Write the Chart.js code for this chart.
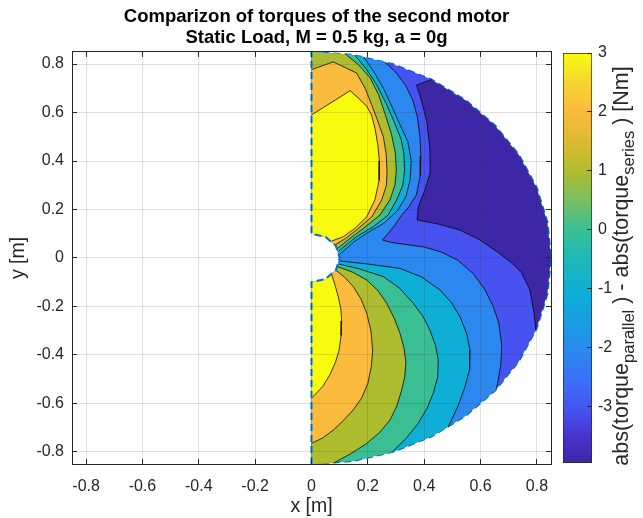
<!DOCTYPE html>
<html>
<head>
<meta charset="utf-8">
<script src="https://cdn.jsdelivr.net/npm/chart.js@4.4.1/dist/chart.umd.min.js"></script>
<style>
  html, body { margin: 0; padding: 0; background: #fff; }
  #wrap { position: relative; width: 643px; height: 518px; }
  #wrap canvas { position: absolute; left: 0; top: 0; }
</style>
</head>
<body>
<div id="wrap">
  <canvas id="plot" width="643" height="518"></canvas>
  <canvas id="cbar" width="643" height="518"></canvas>
</div>
<script>
const FONT = "'Liberation Sans', Arial, Helvetica, sans-serif";

const X_TICKS = [-0.8, -0.6, -0.4, -0.2, 0, 0.2, 0.4, 0.6, 0.8];
const Y_TICKS = [-0.8, -0.6, -0.4, -0.2, 0, 0.2, 0.4, 0.6, 0.8];
const CB_TICKS = [-3, -2, -1, 0, 1, 2, 3];
const CB_RANGE = [-3.95, 3];

// colorbar colormap (value -> colour)
const CMAP_VALUES = [-3.95, -3.53, -3.05, -2.56, -2.07, -1.59, -1.03, -0.48, 0.01, 0.5, 0.98, 1.47, 2.03, 2.51, 3];
const CMAP_COLORS = ['#3e26a8', '#4633c9', '#4653f0', '#3b6ff5', '#2c87ee', '#1a9de2', '#0eaed6', '#20b8b8',
                     '#3abf94', '#78bf62', '#adbd2f', '#dcba30', '#fbbb3d', '#f6d631', '#f9fb0e'];

// fill colours of the bands, lowest to highest
const BAND_COLORS = ['#3e27a6', '#4653f0', '#2c87ee', '#0eaed6', '#3abf94', '#adbd2f', '#fbbb3d', '#f9fb0e'];

// domain boundary: outer half circle (top to bottom) and the notch round the origin
const OUTER_ARC = [[0, 0.85], [0.1476, 0.8371], [0.2907, 0.7987], [0.425, 0.7361], [0.5464, 0.6511],
  [0.6511, 0.5464], [0.7361, 0.425], [0.7987, 0.2907], [0.8371, 0.1476], [0.85, 0],
  [0.8371, -0.1476], [0.7987, -0.2907], [0.7361, -0.425], [0.6511, -0.5464], [0.5464, -0.6511],
  [0.425, -0.7361], [0.2907, -0.7987], [0.1476, -0.8371], [0, -0.85]];
const NOTCH_ARC = [[0, -0.1], [0.05, -0.0866], [0.0866, -0.05], [0.1, 0], [0.0866, 0.05], [0.05, 0.0866], [0, 0.1]];

// contour lines (x, y in m)
const LINE_A_UP = [[0, 0.59], [0.137, 0.69], [0.166, 0.66], [0.196, 0.626], [0.213, 0.59], [0.225, 0.536],
  [0.235, 0.47], [0.241, 0.40], [0.24, 0.32], [0.225, 0.24], [0.196, 0.17], [0.154, 0.122], [0.113, 0.088], [0.072, 0.07]];
const LINE_B_UP = [[0, 0.777], [0.077, 0.809], [0.16, 0.763], [0.19, 0.701], [0.213, 0.633], [0.232, 0.575],
  [0.255, 0.50], [0.265, 0.43], [0.268, 0.36], [0.266, 0.30], [0.249, 0.239], [0.214, 0.17], [0.16, 0.116], [0.12, 0.08], [0.084, 0.054]];
const LINE_C_UP = [[0.12, 0.8415], [0.166, 0.798], [0.208, 0.743], [0.238, 0.674], [0.262, 0.591], [0.284, 0.51],
  [0.298, 0.43], [0.301, 0.36], [0.296, 0.30], [0.278, 0.239], [0.243, 0.177], [0.184, 0.122], [0.137, 0.081], [0.092, 0.039]];
const LINE_D_UP = [[0.154, 0.836], [0.196, 0.777], [0.231, 0.715], [0.264, 0.64], [0.294, 0.56], [0.318, 0.49],
  [0.328, 0.43], [0.33, 0.36], [0.324, 0.30], [0.302, 0.239], [0.272, 0.177], [0.219, 0.129], [0.16, 0.088], [0.13, 0.06], [0.096, 0.028]];
const LINE_E_UP = [[0.185, 0.8296], [0.22, 0.77], [0.255, 0.70], [0.287, 0.62], [0.316, 0.545], [0.342, 0.48],
  [0.354, 0.40], [0.35, 0.322], [0.335, 0.253], [0.305, 0.195], [0.255, 0.142], [0.196, 0.102], [0.15, 0.066], [0.099, 0.014]];
const LINE_F = [[0.26, 0.809], [0.30, 0.765], [0.335, 0.71], [0.36, 0.65], [0.376, 0.58], [0.385, 0.50],
  [0.388, 0.42], [0.386, 0.34], [0.372, 0.26], [0.345, 0.21], [0.32, 0.177], [0.296, 0.136], [0.273, 0.102],
  [0.251, 0.074], [0.284, 0.064], [0.332, 0.056], [0.40, 0.045], [0.46, 0.025], [0.52, -0.01], [0.574, -0.065],
  [0.615, -0.13], [0.645, -0.2], [0.665, -0.27], [0.675, -0.36], [0.672, -0.44], [0.657, -0.539]];
const LINE_G = [[0.4265, 0.736], [0.373, 0.713], [0.391, 0.647], [0.409, 0.564], [0.42, 0.454], [0.421, 0.35],
  [0.403, 0.281], [0.379, 0.212], [0.375, 0.157], [0.45, 0.14], [0.527, 0.115], [0.598, 0.074], [0.66, 0.025],
  [0.71, -0.02], [0.745, -0.06], [0.775, -0.132], [0.79, -0.228], [0.796, -0.298]];
const LINE_A_LO = [[0.072, -0.07], [0.083, -0.11], [0.095, -0.16], [0.104, -0.21], [0.107, -0.26], [0.105, -0.32],
  [0.098, -0.38], [0.085, -0.43], [0.066, -0.48], [0.04, -0.53], [0, -0.579]];
const LINE_B_LO = [[0.086, -0.05], [0.12, -0.082], [0.148, -0.118], [0.176, -0.17], [0.196, -0.228], [0.211, -0.3],
  [0.217, -0.38], [0.212, -0.45], [0.2, -0.517], [0.178, -0.578], [0.148, -0.627], [0.112, -0.672], [0.0775, -0.71],
  [0.04, -0.742], [0, -0.765]];
const LINE_C_LO = [[0.093, -0.036], [0.145, -0.058], [0.196, -0.091], [0.236, -0.135], [0.267, -0.187], [0.294, -0.25],
  [0.314, -0.311], [0.328, -0.37], [0.335, -0.43], [0.331, -0.49], [0.32, -0.545], [0.303, -0.61], [0.279, -0.668],
  [0.24, -0.722], [0.196, -0.765], [0.14, -0.807], [0.078, -0.8464]];
const LINE_D_LO = [[0.097, -0.025], [0.17, -0.045], [0.255, -0.077], [0.313, -0.125], [0.361, -0.187], [0.395, -0.24],
  [0.42, -0.297], [0.44, -0.36], [0.45, -0.421], [0.448, -0.49], [0.432, -0.558], [0.41, -0.62], [0.379, -0.682],
  [0.335, -0.745], [0.287, -0.8001]];
const LINE_E_LO = [[0.099, -0.012], [0.2, -0.025], [0.314, -0.043], [0.39, -0.078], [0.456, -0.132], [0.497, -0.185],
  [0.527, -0.242], [0.55, -0.31], [0.5625, -0.38], [0.561, -0.46], [0.545, -0.531], [0.52, -0.61], [0.4855, -0.6977]];

const CB_LABEL = [['abs(torque', 0], ['parallel', 1], [' ) - abs(torque', 0], ['series', 1], [' ) [Nm]', 0]];

// bands painted from low to high, each over the high side of its contour lines
const LAYERS = [
  { lines: [LINE_G], color: BAND_COLORS[1] },
  { lines: [LINE_F], color: BAND_COLORS[2] },
  { lines: [LINE_E_UP, LINE_E_LO], color: BAND_COLORS[3] },
  { lines: [LINE_D_UP, LINE_D_LO], color: BAND_COLORS[4] },
  { lines: [LINE_C_UP, LINE_C_LO], color: BAND_COLORS[5] },
  { lines: [LINE_B_UP, LINE_B_LO], color: BAND_COLORS[6] },
  { lines: [LINE_A_UP, LINE_A_LO], color: BAND_COLORS[7] }
];

// position of a boundary point along the closed domain outline
function loopPos(p) {
  const x = p[0], y = p[1];
  let t;
  if (Math.abs(x) < 1e-9) {
    t = y <= -0.1 ? 1 + (y + 0.85) / 0.75 : 3 + (y - 0.1) / 0.75;
  } else {
    const deg = Math.atan2(y, x) * 180 / Math.PI;
    t = Math.hypot(x, y) > 0.5 ? (90 - deg) / 180 : 2 + (deg + 90) / 180;
  }
  return t % 4;
}
const LOOP = OUTER_ARC.concat(NOTCH_ARC).map(p => ({ p, t: loopPos(p) }));

function regionOf(line) {
  const tP = loopPos(line[0]), tQ = loopPos(line[line.length - 1]);
  let between;
  if (tP > tQ) between = LOOP.filter(v => v.t > tQ && v.t < tP);
  else between = LOOP.filter(v => v.t > tQ).concat(LOOP.filter(v => v.t < tP));
  return line.concat(between.map(v => v.p));
}

const pts = arr => arr.map(p => ({ x: p[0], y: p[1] }));

let datasets = [];
datasets.push({ data: pts(OUTER_ARC), borderColor: '#0072bd', borderWidth: 2.2, borderDash: [7, 4],
  fill: false, pointRadius: 0, order: 100 });
datasets.push({ data: pts(LOOP.map(v => v.p)), backgroundColor: BAND_COLORS[0], borderColor: 'rgba(0,0,0,0)',
  borderWidth: 1, fill: 'shape', pointRadius: 0, order: 90 });
LAYERS.forEach((layer, i) => {
  layer.lines.forEach(line => {
    datasets.push({ data: pts(regionOf(line)), backgroundColor: layer.color, borderColor: 'rgba(0,0,0,0)',
      borderWidth: 1, fill: 'shape', pointRadius: 0, order: 80 - i * 10 });
  });
});
LAYERS.forEach(layer => {
  layer.lines.forEach(line => {
    datasets.push({ data: pts(line), borderColor: 'rgba(0,0,0,0.85)', borderWidth: 0.9,
      fill: false, pointRadius: 0, order: 5 });
  });
});
datasets.push({ data: pts([OUTER_ARC[OUTER_ARC.length - 1]].concat(NOTCH_ARC, [OUTER_ARC[0]])),
  borderColor: '#0072bd', borderWidth: 2, borderDash: [7, 4], fill: false, pointRadius: 0, order: 1 });

const tickFont = { family: FONT, size: 16 };
const gridOpts = { color: 'rgba(38,38,38,0.15)', tickColor: '#262626', tickLength: -5, z: 1 };

function axis(position, ticksArr, showLabels, size, pad) {
  const horizontal = position === 'top' || position === 'bottom';
  return {
    type: 'linear', position, min: -0.85, max: 0.85,
    afterBuildTicks: s => { s.ticks = ticksArr.map(v => ({ value: v })); },
    afterFit: s => { if (horizontal) s.height = size; else s.width = size; },
    grid: Object.assign({ drawOnChartArea: showLabels }, gridOpts),
    border: { display: true, color: '#262626', width: 1, z: 2 },
    ticks: { display: showLabels, color: '#262626', font: tickFont, padding: pad,
      autoSkip: false, maxRotation: 0, callback: v => String(v) }
  };
}

const xAxis = axis('bottom', X_TICKS, true, 54, 18);
xAxis.title = { display: true, text: 'x [m]', color: '#262626', font: { family: FONT, size: 19.5 }, padding: { top: 0, bottom: 0 } };
const yAxis = axis('left', Y_TICKS, true, 72, 13);
yAxis.title = { display: true, text: 'y [m]', color: '#262626', font: { family: FONT, size: 19.5 }, padding: { top: 7, bottom: 0 } };

new Chart(document.getElementById('plot'), {
  type: 'line',
  data: { datasets },
  options: {
    responsive: false,
    animation: false,
    events: [],
    layout: { padding: { left: 0, right: 10, top: 0, bottom: 0 } },
    plugins: {
      legend: { display: false },
      tooltip: { enabled: false },
      title: {
        display: true,
        text: ['Comparizon of torques of the second motor', 'Static Load, M = 0.5 kg, a = 0g'],
        color: '#000',
        font: { family: FONT, size: 18.5, weight: 'bold', lineHeight: 1.15 },
        padding: { top: 6, bottom: 3.4 }
      }
    },
    scales: {
      x: xAxis,
      y: yAxis,
      x2: axis('top', X_TICKS, false, 0, 0),
      y2: axis('right', Y_TICKS, false, 82, 0)
    }
  }
});

// colour bar
function cbGradient(chart) {
  const area = chart.chartArea;
  if (!area) return CMAP_COLORS[0];
  const ys = chart.scales.y;
  const y0 = ys.getPixelForValue(CB_RANGE[0]), y1 = ys.getPixelForValue(CB_RANGE[1]);
  const g = chart.ctx.createLinearGradient(0, y0, 0, y1);
  CMAP_VALUES.forEach((v, i) => g.addColorStop((v - CB_RANGE[0]) / (CB_RANGE[1] - CB_RANGE[0]), CMAP_COLORS[i]));
  return g;
}

const cbLabel = {
  id: 'cbLabel',
  afterDraw(chart) {
    const { ctx, chartArea } = chart;
    const mainFont = '21.5px ' + FONT, subFont = '16.5px ' + FONT;
    ctx.save();
    let total = 0;
    const widths = CB_LABEL.map(([txt, sub]) => {
      ctx.font = sub ? subFont : mainFont;
      const w = ctx.measureText(txt).width;
      total += w;
      return w;
    });
    ctx.translate(chartArea.right + 36, (chartArea.top + chartArea.bottom) / 2 + 8);
    ctx.rotate(-Math.PI / 2);
    ctx.fillStyle = '#262626';
    ctx.textBaseline = 'alphabetic';
    let x = -total / 2;
    CB_LABEL.forEach(([txt, sub], i) => {
      ctx.font = sub ? subFont : mainFont;
      ctx.fillText(txt, x, sub ? 6 : 0);
      x += widths[i];
    });
    ctx.restore();
  }
};

new Chart(document.getElementById('cbar'), {
  type: 'bar',
  data: {
    labels: ['cb'],
    datasets: [{
      data: [CB_RANGE],
      backgroundColor: ctx => cbGradient(ctx.chart),
      borderColor: '#262626',
      borderWidth: 1,
      borderSkipped: false,
      barPercentage: 1,
      categoryPercentage: 1
    }]
  },
  options: {
    responsive: false,
    animation: false,
    events: [],
    layout: { padding: { left: 563, right: 0, top: 53, bottom: 55 } },
    plugins: { legend: { display: false }, tooltip: { enabled: false } },
    scales: {
      x: { display: false },
      y: {
        position: 'right', min: CB_RANGE[0], max: CB_RANGE[1],
        afterBuildTicks: s => { s.ticks = CB_TICKS.map(v => ({ value: v })); },
        afterFit: s => { s.width = 51; },
        grid: { drawOnChartArea: false, tickColor: '#262626', tickLength: -5, z: 1 },
        border: { display: false },
        ticks: { color: '#262626', font: tickFont, padding: 11, callback: v => String(v) }
      }
    }
  },
  plugins: [cbLabel]
});
</script>
</body>
</html>
